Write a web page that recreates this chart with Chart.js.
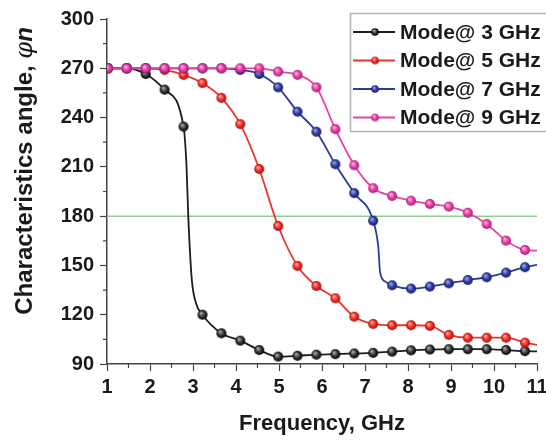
<!DOCTYPE html>
<html>
<head>
<meta charset="utf-8">
<script src="https://cdn.jsdelivr.net/npm/chart.js@4.4.1/dist/chart.umd.min.js"></script>
<style>
  html, body { margin: 0; padding: 0; background: #fff; }
  #wrap { width: 546px; height: 441px; }
</style>
</head>
<body>
<div id="wrap"><canvas id="chart" width="546" height="441"></canvas></div>
<script>
// marker positions (GHz)
const freq = [1.02, 1.46, 1.90, 2.34, 2.78, 3.22, 3.66, 4.10, 4.54, 4.98, 5.43, 5.87,
  6.31, 6.75, 7.19, 7.63, 8.07, 8.51, 8.95, 9.39, 9.83, 10.28, 10.72];

const mode3 = [270, 270, 266.5, 257, 234.5, 120, 108.7, 104.2, 98.5, 94.5, 95, 95.7,
  96, 96.4, 96.8, 97.5, 98.3, 98.8, 99, 99, 99, 98.5, 97.8];
const mode5 = [270, 270, 270, 269, 266, 261, 252, 236, 208.7, 174, 149.7, 137.5,
  130, 118.8, 114.4, 113.6, 113.6, 113.2, 107.7, 106, 106, 106, 103];
const mode7 = [270, 270, 270, 270, 270, 270, 270, 269, 266.5, 258.4, 243.6, 231.4,
  211.6, 194, 177.2, 137.9, 135.9, 137.1, 139.1, 141.1, 142.8, 145.6, 148.9];
const mode9 = [270, 270, 270, 270, 270, 270, 270, 270, 270, 268, 266, 258.4,
  233, 211, 197, 192.3, 189.4, 187.4, 185.8, 182.1, 175.2, 165.1, 159.4];

// curve points without a marker: sharp bends and the line end at 11 GHz
const mode3Curve = [[2.85, 210], [2.89, 180], [2.97, 142], [3.07, 127], [11, 97.7]];
const mode5Curve = [[11, 101.6]];
const mode7Curve = [[7.31, 161], [7.35, 146], [7.48, 140], [11, 150.3]];
const mode9Curve = [[11, 159]];

const seriesNames = ["Mode@ 3 GHz", "Mode@ 5 GHz", "Mode@ 7 GHz", "Mode@ 9 GHz"];
const xTicks = [1, 2, 3, 4, 5, 6, 7, 8, 9, 10, 11];
const yTicks = [90, 120, 150, 180, 210, 240, 270, 300];
const refLevel = 180;

const lineColors = ["#1e1e1e", "#e8362c", "#2e3b96", "#e4449f"];
const ballColors = [
  ["#a8a8a8", "#333333", "#000000"],
  ["#ffa89a", "#ee2b22", "#a81010"],
  ["#9aa2e8", "#2f3da0", "#141c62"],
  ["#ffb0de", "#e63da0", "#a81c74"],
];

function ball(c, r) {
  const cv = document.createElement("canvas");
  const s = Math.ceil(r * 2 + 2);
  cv.width = cv.height = s;
  const g = cv.getContext("2d");
  const m = s / 2;
  const grad = g.createRadialGradient(m - r * 0.3, m - r * 0.35, r * 0.1, m, m, r);
  grad.addColorStop(0, c[0]);
  grad.addColorStop(0.55, c[1]);
  grad.addColorStop(1, c[2]);
  g.fillStyle = grad;
  g.beginPath();
  g.arc(m, m, r, 0, Math.PI * 2);
  g.fill();
  return cv;
}

function points(vals, extra) {
  const pts = freq.map((f, i) => ({ x: f, y: vals[i], m: true }));
  extra.forEach(([x, y]) => pts.push({ x, y, m: false }));
  return pts.sort((a, b) => a.x - b.x);
}

const allVals = [mode3, mode5, mode7, mode9];
const allCurves = [mode3Curve, mode5Curve, mode7Curve, mode9Curve];
const bigBalls = ballColors.map(c => ball(c, 5));
const smallBalls = ballColors.map(c => ball(c, 3.8));

const datasets = allVals.map((vals, k) => ({
  label: seriesNames[k],
  data: points(vals, allCurves[k]),
  borderColor: lineColors[k],
  borderWidth: 1.8,
  cubicInterpolationMode: "monotone",
  pointStyle: bigBalls[k],
  pointRadius: ctx => (ctx.raw && ctx.raw.m ? 5 : 0),
  order: 4 - k,
}));

datasets.push({
  label: "ref",
  data: [{ x: 1, y: refLevel }, { x: 11, y: refLevel }],
  borderColor: "#8fd28f",
  borderWidth: 1.5,
  pointRadius: 0,
  order: 10,
});

const minorTicks = {
  id: "minorTicks",
  afterDraw(chart) {
    const { ctx, scales: { x, y } } = chart;
    ctx.save();
    ctx.strokeStyle = "#444";
    ctx.lineWidth = 1.2;
    ctx.beginPath();
    for (let i = 0; i < xTicks.length - 1; i++) {
      const px = x.getPixelForValue((xTicks[i] + xTicks[i + 1]) / 2);
      ctx.moveTo(px, y.bottom);
      ctx.lineTo(px, y.bottom + 4);
    }
    for (let i = 0; i < yTicks.length - 1; i++) {
      const py = y.getPixelForValue((yTicks[i] + yTicks[i + 1]) / 2);
      ctx.moveTo(x.left, py);
      ctx.lineTo(x.left - 4, py);
    }
    ctx.stroke();
    ctx.restore();
  },
};

const boxLegend = {
  id: "boxLegend",
  afterDraw(chart) {
    const ctx = chart.ctx;
    ctx.save();
    ctx.strokeStyle = "#b4b4b4";
    ctx.lineWidth = 1.5;
    ctx.strokeRect(350.5, 13.5, 210, 118);
    ctx.font = "bold 21px 'Liberation Sans', Arial, sans-serif";
    ctx.textBaseline = "middle";
    ctx.fillStyle = "#1a1a1a";
    seriesNames.forEach((name, k) => {
      const yc = 32 + k * 28.5;
      ctx.strokeStyle = lineColors[k];
      ctx.lineWidth = 1.8;
      ctx.beginPath();
      ctx.moveTo(353, yc);
      ctx.lineTo(395, yc);
      ctx.stroke();
      const b = smallBalls[k];
      ctx.drawImage(b, 375 - b.width / 2, yc - b.height / 2);
      ctx.fillText(name, 400, yc + 1);
    });
    ctx.restore();
  },
};

const yTitle = {
  id: "yTitle",
  afterDraw(chart) {
    const ctx = chart.ctx;
    const parts = [
      ["Characteristics angle, ", "bold 24px 'Liberation Sans', Arial, sans-serif"],
      ["\u03C6", "italic 24px 'DejaVu Serif', serif"],
      ["n", "italic bold 24px 'Liberation Sans', Arial, sans-serif"],
    ];
    ctx.save();
    let total = 0;
    const widths = parts.map(([t, f]) => { ctx.font = f; const w = ctx.measureText(t).width; total += w; return w; });
    ctx.translate(32, 171);
    ctx.rotate(-Math.PI / 2);
    ctx.fillStyle = "#1a1a1a";
    ctx.textBaseline = "alphabetic";
    let cx = -total / 2;
    parts.forEach(([t, f], i) => {
      ctx.font = f;
      ctx.fillText(t, cx, 0);
      cx += widths[i];
    });
    ctx.restore();
  },
};

const tickFont = { family: "'Liberation Sans', Arial, sans-serif", size: 20, weight: "bold" };

new Chart(document.getElementById("chart"), {
  type: "line",
  data: { datasets },
  options: {
    responsive: false,
    animation: false,
    events: [],
    layout: { padding: { top: 19, right: 9, left: 0, bottom: 0 } },
    plugins: { legend: { display: false }, tooltip: { enabled: false } },
    scales: {
      x: {
        type: "linear",
        min: 1,
        max: 11,
        afterBuildTicks: s => { s.ticks = xTicks.map(v => ({ value: v })); },
        afterFit: s => { s.height = 77; s.paddingLeft = 0; s.paddingRight = 0; },
        grid: { drawOnChartArea: false, tickLength: 7, tickColor: "#444", tickWidth: 1.2 },
        border: { color: "#444", width: 1.5 },
        ticks: { color: "#1a1a1a", font: tickFont, padding: 4, maxRotation: 0 },
        title: {
          display: true,
          text: "Frequency, GHz",
          color: "#1a1a1a",
          font: { family: "'Liberation Sans', Arial, sans-serif", size: 22, weight: "bold" },
          padding: { top: 0, bottom: 4 },
        },
      },
      y: {
        type: "linear",
        min: 90,
        max: 300,
        afterBuildTicks: s => { s.ticks = yTicks.map(v => ({ value: v })); },
        afterFit: s => { s.width = 107; s.paddingTop = 0; s.paddingBottom = 0; },
        grid: { drawOnChartArea: false, tickLength: 7, tickColor: "#444", tickWidth: 1.2 },
        border: { color: "#444", width: 1.5 },
        ticks: { color: "#1a1a1a", font: tickFont, padding: 6 },
      },
    },
  },
  plugins: [minorTicks, boxLegend, yTitle],
});
</script>
</body>
</html>
